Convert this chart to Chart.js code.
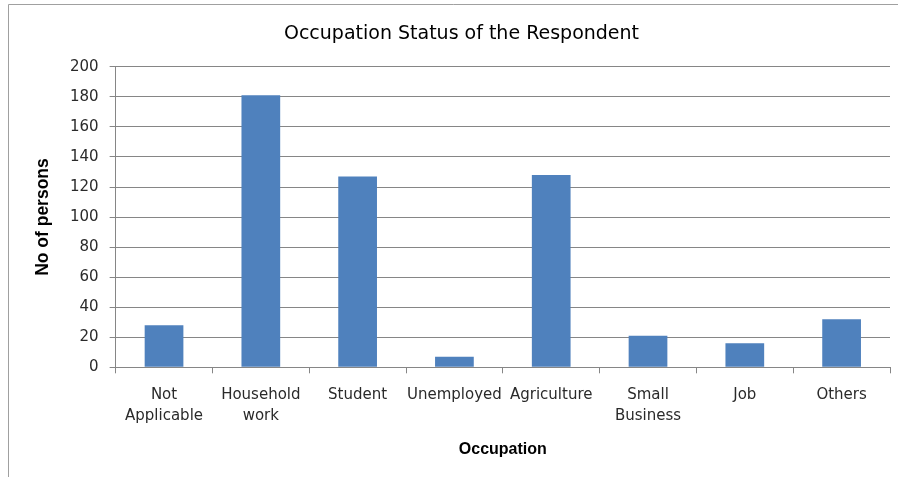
<!DOCTYPE html>
<html lang="en">
<head>
    <meta charset="UTF-8">
    <title>Occupation Status of the Respondent</title>
    <script src="https://cdn.jsdelivr.net/npm/chart.js"></script>
    <style>
        body {
            margin: 0;
            background: #ffffff;
        }
        canvas {
            display: block;
        }
    </style>
</head>
<body>
    <canvas id="occupationChart" width="898" height="477"></canvas>

    <script>
        const occupations = [
            ['Not', 'Applicable'],
            ['Household', 'work'],
            'Student',
            'Unemployed',
            'Agriculture',
            ['Small', 'Business'],
            'Job',
            'Others'
        ];
        const persons = [28, 181, 127, 7, 128, 21, 16, 32];

        const textFont = "'DejaVu Sans', Verdana, sans-serif";
        const axisFont = "'Liberation Sans', Arial, sans-serif";

        // thin grey frame round the whole chart
        const chartFrame = {
            id: 'chartFrame',
            beforeDraw(chart) {
                const c = chart.ctx;
                c.save();
                c.fillStyle = '#ffffff';
                c.fillRect(0, 0, chart.width, chart.height);
                c.strokeStyle = '#a0a0a0';
                c.lineWidth = 1;
                c.beginPath();
                c.moveTo(8.5, chart.height);
                c.lineTo(8.5, 4.5);
                c.lineTo(chart.width, 4.5);
                c.stroke();
                c.restore();
            }
        };

        const ctx = document.getElementById('occupationChart').getContext('2d');
        new Chart(ctx, {
            type: 'bar',
            data: {
                labels: occupations,
                datasets: [{
                    label: 'No of persons',
                    data: persons,
                    backgroundColor: '#4f81bd',
                    barPercentage: 0.4,
                    categoryPercentage: 1
                }]
            },
            options: {
                responsive: false,
                animation: false,
                layout: {
                    padding: { left: 33, right: 8, top: 10, bottom: 18 }
                },
                scales: {
                    x: {
                        grid: {
                            drawOnChartArea: false,
                            color: '#868686',
                            tickLength: 6
                        },
                        border: { color: '#868686' },
                        ticks: {
                            color: '#2a2a2a',
                            autoSkip: false,
                            maxRotation: 0,
                            padding: 12,
                            font: { family: textFont, size: 15, lineHeight: 1.35 }
                        },
                        title: {
                            display: true,
                            text: 'Occupation',
                            color: '#000000',
                            padding: { top: 2, bottom: 0 },
                            font: { family: axisFont, size: 16, weight: 'bold' }
                        }
                    },
                    y: {
                        min: 0,
                        max: 200,
                        ticks: {
                            stepSize: 20,
                            color: '#2a2a2a',
                            padding: 11,
                            font: { family: textFont, size: 15 }
                        },
                        grid: {
                            color: '#868686',
                            tickLength: 6
                        },
                        border: { color: '#868686' },
                        title: {
                            display: true,
                            text: 'No of persons',
                            color: '#000000',
                            padding: { top: 0, bottom: 5 },
                            font: { family: axisFont, size: 17.5, weight: 'bold' }
                        }
                    }
                },
                plugins: {
                    legend: { display: false },
                    tooltip: { enabled: false },
                    title: {
                        display: true,
                        text: 'Occupation Status of the Respondent',
                        color: '#000000',
                        padding: { top: 13, bottom: 21 },
                        font: { family: textFont, size: 19, weight: 'normal' }
                    }
                }
            },
            plugins: [chartFrame]
        });
    </script>
</body>
</html>
